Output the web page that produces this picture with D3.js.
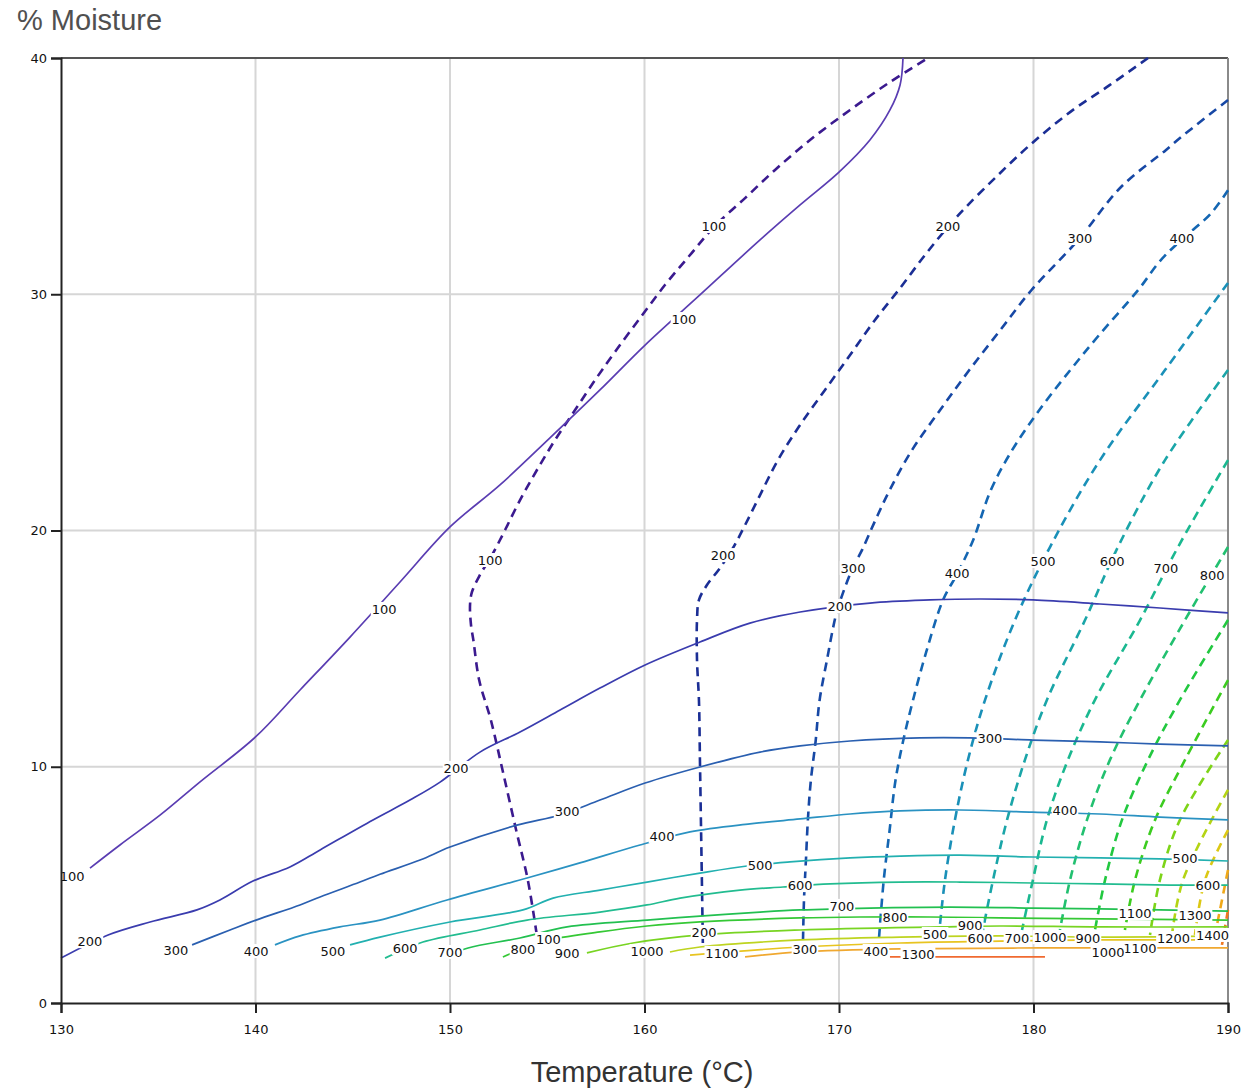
<!DOCTYPE html>
<html>
<head>
<meta charset="utf-8">
<script src="https://cdn.jsdelivr.net/npm/d3@7"></script>
<style>
  html, body { margin: 0; padding: 0; background: #fff; }
  svg { display: block; }
</style>
</head>
<body>
<svg id="chart" width="1254" height="1090"></svg>
<script>
// ---- Axis ticks ----
const xTicks = [130, 140, 150, 160, 170, 180, 190];
const yTicks = [0, 10, 20, 30, 40];

// ---- Solid contour lines: [temperature, moisture] ----
const s100 = [[131.49,5.71],[133.03,6.69],[135.09,7.95],[137.15,9.36],[140.0,11.26],[142.29,13.25],[144.86,15.49],[147.43,17.82],[150.0,20.15],[152.57,21.93],[155.14,23.92],[157.71,25.95],[160.03,27.85],[162.85,29.97],[165.94,32.30],[168.0,33.78],[170.0,35.17],[171.59,36.53],[172.62,37.80],[173.14,38.86],[173.29,40.0]];
const s200 = [[130,1.90],[132.42,2.88],[134.58,3.43],[136.99,3.94],[138.17,4.36],[139.87,5.16],[141.77,5.76],[143.32,6.48],[146.04,7.75],[147.94,8.59],[149.49,9.35],[151.54,10.62],[153.60,11.47],[155.66,12.40],[157.71,13.33],[160.03,14.31],[162.85,15.28],[165.42,16.08],[168.0,16.55],[171.59,16.93],[174.68,17.06],[177.25,17.10],[179.97,17.06],[183.42,16.89],[186.50,16.72],[190,16.51]];
const s300 = [[136.74,2.46],[138.69,3.09],[140.03,3.51],[142.29,4.15],[143.32,4.49],[145.37,5.12],[146.40,5.45],[148.46,6.05],[150.0,6.60],[153.44,7.53],[155.66,7.96],[157.71,8.59],[160.03,9.31],[162.85,9.99],[165.94,10.62],[168.0,10.88],[170.57,11.09],[174.16,11.22],[176.74,11.22],[179.97,11.13],[183.42,11.05],[186.50,10.96],[190,10.88]];
const s400 = [[141.0,2.46],[142.29,2.84],[144.34,3.22],[146.40,3.51],[149.85,4.36],[153.96,5.29],[156.68,5.93],[159.77,6.69],[162.34,7.24],[165.42,7.58],[168.0,7.79],[170.57,8.0],[173.14,8.13],[176.22,8.17],[179.97,8.08],[183.42,8.0],[186.50,7.87],[190,7.75]];
const s500 = [[144.86,2.46],[146.40,2.79],[150.0,3.43],[153.75,3.94],[155.30,4.44],[157.71,4.78],[160.13,5.12],[162.85,5.50],[165.27,5.80],[167.48,5.97],[170.57,6.14],[173.14,6.22],[176.22,6.26],[179.97,6.18],[183.42,6.14],[186.50,6.10],[190,6.01]];
const s600 = [[146.66,1.90],[148.61,2.58],[151.54,3.09],[153.96,3.51],[157.71,3.85],[160.13,4.15],[161.83,4.44],[164.91,4.78],[167.12,4.91],[169.54,5.04],[173.14,5.12],[176.22,5.12],[179.97,5.08],[183.42,5.04],[187.02,4.99],[190,4.99]];
const s700 = [[149.74,1.95],[150.93,2.33],[153.60,2.75],[156.02,3.22],[160.13,3.51],[162.85,3.68],[165.94,3.85],[168.0,3.94],[171.59,4.02],[175.71,4.06],[179.97,4.02],[183.42,3.98],[186.50,3.94],[190,3.89]];
const s800 = [[152.72,1.95],[154.88,2.62],[157.71,3.01],[160.13,3.26],[162.85,3.43],[168.0,3.60],[171.08,3.64],[174.68,3.64],[178.28,3.60],[183.42,3.56],[190,3.51]];
const s900 = [[157.04,2.12],[159.41,2.54],[162.85,2.88],[168.0,3.09],[175.19,3.22],[178.28,3.26],[183.42,3.22],[190,3.22]];
const s1000 = [[161.31,2.16],[162.85,2.37],[168.0,2.67],[173.14,2.79],[178.28,2.84],[183.42,2.79],[190,2.84]];
const s1100 = [[162.34,2.03],[168.0,2.37],[173.14,2.54],[178.28,2.62],[183.42,2.67],[190,2.67]];
const s1200 = [[165.17,1.95],[168.0,2.16],[173.14,2.29],[180.33,2.33],[190,2.33]];
const s1300 = [[172.62,1.95],[180.59,1.95]];

const solidLevels = [100, 200, 300, 400, 500, 600, 700, 800, 900, 1000, 1100, 1200, 1300];
const solidLines = [s100, s200, s300, s400, s500, s600, s700, s800, s900, s1000, s1100, s1200, s1300];
const solidColors = ["#5a3db2", "#3a3cae", "#2a5fb0", "#2a92c2", "#22b0b0", "#22bc90", "#22c050", "#35c835", "#78d422", "#bed420", "#e8c420", "#f0a830", "#f06a30"];

// ---- Dashed contour lines: [temperature, moisture] ----
const d100 = [[174.42,39.92],[172.62,38.98],[170.57,37.80],[168.51,36.53],[166.71,35.26],[165.17,34.07],[163.57,32.85],[162.34,31.66],[161.05,30.39],[159.77,28.99],[158.48,27.56],[157.46,26.37],[156.43,25.10],[155.40,23.83],[154.47,22.56],[153.60,21.29],[152.83,20.02],[152.16,18.96],[151.54,18.12],[151.13,17.40],[151.03,16.85],[151.08,16.0],[151.2,15.37],[151.5,13.67],[152.1,11.98],[152.7,9.86],[153.4,7.32],[154.0,5.21],[154.5,2.67]];
const d200 = [[185.89,40.0],[183.93,38.86],[181.88,37.71],[179.82,36.32],[178.02,34.92],[176.48,33.65],[175.60,32.85],[174.42,31.66],[173.14,30.26],[171.85,28.91],[170.57,27.43],[169.28,25.95],[168.0,24.47],[166.86,22.98],[165.94,21.50],[165.17,20.23],[164.55,19.26],[163.88,18.41],[163.21,17.69],[162.80,17.06],[162.70,16.21],[162.70,14.52],[162.8,12.8],[162.85,10.3],[162.9,7.75],[162.95,5.2],[163.0,2.54]];
const d300 = [[190,38.22],[187.6,36.66],[186.8,36.1],[184.5,34.54],[182.3,32.3],[179.9,30.18],[178.3,28.49],[176.7,26.79],[175.2,25.1],[173.75,23.4],[172.6,21.7],[171.85,20.4],[171.2,19.2],[170.7,18.4],[170.2,17.35],[169.9,16.6],[169.7,15.9],[169.4,14.6],[169.0,12.8],[168.8,11.1],[168.55,9.4],[168.4,7.75],[168.3,6.05],[168.2,4.36],[168.15,2.67]];
const d400 = [[190,34.4],[189.1,33.4],[187.6,32.3],[186.5,31.4],[185.4,30.2],[183.4,28.3],[181.9,26.8],[180.3,25.1],[178.9,23.4],[177.8,21.7],[176.9,19.6],[176.1,18.2],[175.35,17.06],[174.5,14.9],[173.8,12.8],[173.3,11.1],[172.9,9.4],[172.6,7.3],[172.3,5.2],[172.05,2.67]];
const d500 = [[190,30.48],[186.76,26.79],[183.42,22.98],[180.85,19.30],[179.05,16.21],[177.51,12.83],[176.63,10.29],[175.96,7.75],[175.45,5.21],[175.19,3.30]];
const d600 = [[190,26.79],[186.76,22.98],[184.34,19.30],[182.65,16.21],[180.69,12.83],[179.56,10.29],[178.64,7.75],[177.92,5.21],[177.40,3.09]];
const d700 = [[190,22.98],[187.43,19.30],[185.48,16.21],[183.16,12.83],[181.77,10.29],[180.69,7.75],[179.97,5.21],[179.41,3.09]];
const d800 = [[190,19.30],[187.79,16.21],[185.48,12.83],[183.93,10.29],[182.75,7.75],[181.88,5.21],[181.36,3.09]];
const d900 = [[190,16.21],[187.53,12.83],[185.89,10.29],[184.55,7.75],[183.68,5.21],[183.16,3.09]];
const d1000 = [[190,13.67],[187.79,10.29],[186.25,7.75],[185.22,5.21],[184.70,3.09]];
const d1100 = [[190,11.13],[187.53,7.75],[186.50,5.21],[185.99,2.88]];
const d1200 = [[190,9.02],[187.69,5.21],[187.12,2.88]];
const d1300 = [[190,7.32],[188.82,5.21],[188.30,2.88]];
const d1400 = [[190,5.63],[189.33,2.88]];
const d1500 = [[190,3.94],[189.69,2.46]];

const dashedLevels = [100, 200, 300, 400, 500, 600, 700, 800, 900, 1000, 1100, 1200, 1300, 1400, 1500];
const dashedLines = [d100, d200, d300, d400, d500, d600, d700, d800, d900, d1000, d1100, d1200, d1300, d1400, d1500];
const dashedColors = ["#3b1a8f", "#1b2e95", "#1748a5", "#1466b2", "#1a90b8", "#1aa5a8", "#1ab890", "#22c070", "#22c840", "#3ccc20", "#7dd418", "#b4d414", "#dcc814", "#f0a818", "#f07820"];

// ---- Contour labels: [text, temperature, moisture] ----
const solidLabels = [
  ["100",130.57,5.38],["100",146.61,16.68],["100",162.03,28.95],
  ["200",131.49,2.62],["200",150.31,9.95],["200",170.05,16.80],
  ["300",135.91,2.24],["300",156.02,8.13],["300",177.76,11.22],
  ["400",140.03,2.20],["400",160.90,7.07],["400",181.62,8.17],
  ["500",143.98,2.20],["500",165.94,5.84],["500",187.79,6.14],
  ["600",147.69,2.33],["600",168.0,4.99],["600",188.97,4.99],
  ["700",150.0,2.16],["700",170.15,4.11],
  ["800",153.75,2.29],["800",172.88,3.64],
  ["900",156.02,2.12],["900",176.74,3.30],
  ["1000",160.13,2.20],["1000",180.85,2.79],
  ["1100",163.98,2.12],["1100",185.47,2.33],
  ["1300",174.06,2.07]
];
const dashedLabels = [
  ["100",163.57,32.89],["100",152.06,18.75],["100",155.06,2.71],
  ["200",175.60,32.89],["200",164.04,18.96],["200",163.06,3.01],
  ["300",182.39,32.38],["300",170.72,18.41],["300",168.25,2.29],
  ["400",187.63,32.38],["400",176.07,18.20],["400",171.90,2.20],
  ["500",180.49,18.71],["500",174.94,2.92],
  ["600",184.04,18.71],["600",177.25,2.75],
  ["700",186.81,18.41],["700",179.15,2.75],
  ["800",189.18,18.12],
  ["900",182.80,2.75],
  ["1000",183.83,2.16],
  ["1100",185.22,3.81],
  ["1200",187.20,2.75],
  ["1300",188.30,3.72],
  ["1400",189.20,2.88]
];

// ---- Layout ----
const margin = { top: 58, right: 26, bottom: 87, left: 61 };
const width = 1254, height = 1090;
const svg = d3.select("#chart");

const x = d3.scaleLinear().domain([130, 190]).range([margin.left, width - margin.right]);
const y = d3.scaleLinear().domain([0, 40]).range([height - margin.bottom, margin.top]);

const labelFont = "'DejaVu Sans', 'Liberation Sans', sans-serif";

// Grid
const grid = svg.append("g");
grid.selectAll("line.vx").data(xTicks.slice(1, -1)).join("line")
  .attr("x1", d => x(d)).attr("x2", d => x(d))
  .attr("y1", y(0)).attr("y2", y(40))
  .attr("stroke", "#d6d6d6").attr("stroke-width", 2);
grid.selectAll("line.hy").data(yTicks.slice(1, -1)).join("line")
  .attr("x1", x(130)).attr("x2", x(190))
  .attr("y1", d => y(d)).attr("y2", d => y(d))
  .attr("stroke", "#d6d6d6").attr("stroke-width", 2);

// Frame (top and right edges)
svg.append("line").attr("x1", x(130)).attr("x2", x(190)).attr("y1", y(40)).attr("y2", y(40))
  .attr("stroke", "#555").attr("stroke-width", 2);
svg.append("line").attr("x1", x(190)).attr("x2", x(190)).attr("y1", y(40)).attr("y2", y(0))
  .attr("stroke", "#8a8a8a").attr("stroke-width", 2);

const line = d3.line().x(d => x(d[0])).y(d => y(d[1])).curve(d3.curveCatmullRom.alpha(0.5));

// Dashed contours
svg.append("g").selectAll("path").data(dashedLines).join("path")
  .attr("d", d => line(d))
  .attr("fill", "none")
  .attr("stroke", (d, i) => dashedColors[i])
  .attr("stroke-width", 2.6)
  .attr("stroke-dasharray", "9,6");

// Solid contours
svg.append("g").selectAll("path").data(solidLines).join("path")
  .attr("d", d => line(d))
  .attr("fill", "none")
  .attr("stroke", (d, i) => solidColors[i])
  .attr("stroke-width", 1.7);

// Contour labels with a white knock-out box
function drawLabels(list) {
  const g = svg.append("g");
  const items = g.selectAll("g").data(list).join("g")
    .attr("transform", d => `translate(${x(d[1])},${y(d[2])})`);
  items.append("rect")
    .attr("x", d => -d[0].length * 4.1 - 1)
    .attr("y", -7)
    .attr("width", d => d[0].length * 8.2 + 2)
    .attr("height", 14)
    .attr("fill", "#fff");
  items.append("text")
    .attr("text-anchor", "middle")
    .attr("dy", "0.36em")
    .attr("font-family", labelFont)
    .attr("font-size", 13)
    .attr("fill", "#111")
    .text(d => d[0]);
}
drawLabels(solidLabels);
drawLabels(dashedLabels);

// Axes
const xAxis = d3.axisBottom(x).tickValues(xTicks).tickSize(10).tickPadding(12).tickFormat(d3.format("d"));
const yAxis = d3.axisLeft(y).tickValues(yTicks).tickSize(10).tickPadding(4).tickFormat(d3.format("d"));

const gx = svg.append("g").attr("transform", `translate(0,${y(0)})`).call(xAxis);
const gy = svg.append("g").attr("transform", `translate(${x(130)},0)`).call(yAxis);
[gx, gy].forEach(g => {
  g.select(".domain").attr("stroke", "#222").attr("stroke-width", 2);
  g.selectAll(".tick line").attr("stroke", "#222").attr("stroke-width", 2);
  g.selectAll(".tick text").attr("font-family", labelFont).attr("font-size", 13).attr("fill", "#111");
});

// Axis titles
svg.append("text")
  .attr("x", 17).attr("y", 30)
  .attr("font-family", "'Liberation Sans', Arial, sans-serif")
  .attr("font-size", 29)
  .attr("fill", "#505050")
  .text("% Moisture");

svg.append("text")
  .attr("x", 642).attr("y", 1082)
  .attr("text-anchor", "middle")
  .attr("font-family", "'Liberation Sans', Arial, sans-serif")
  .attr("font-size", 29)
  .attr("fill", "#333")
  .text("Temperature (°C)");
</script>
</body>
</html>
